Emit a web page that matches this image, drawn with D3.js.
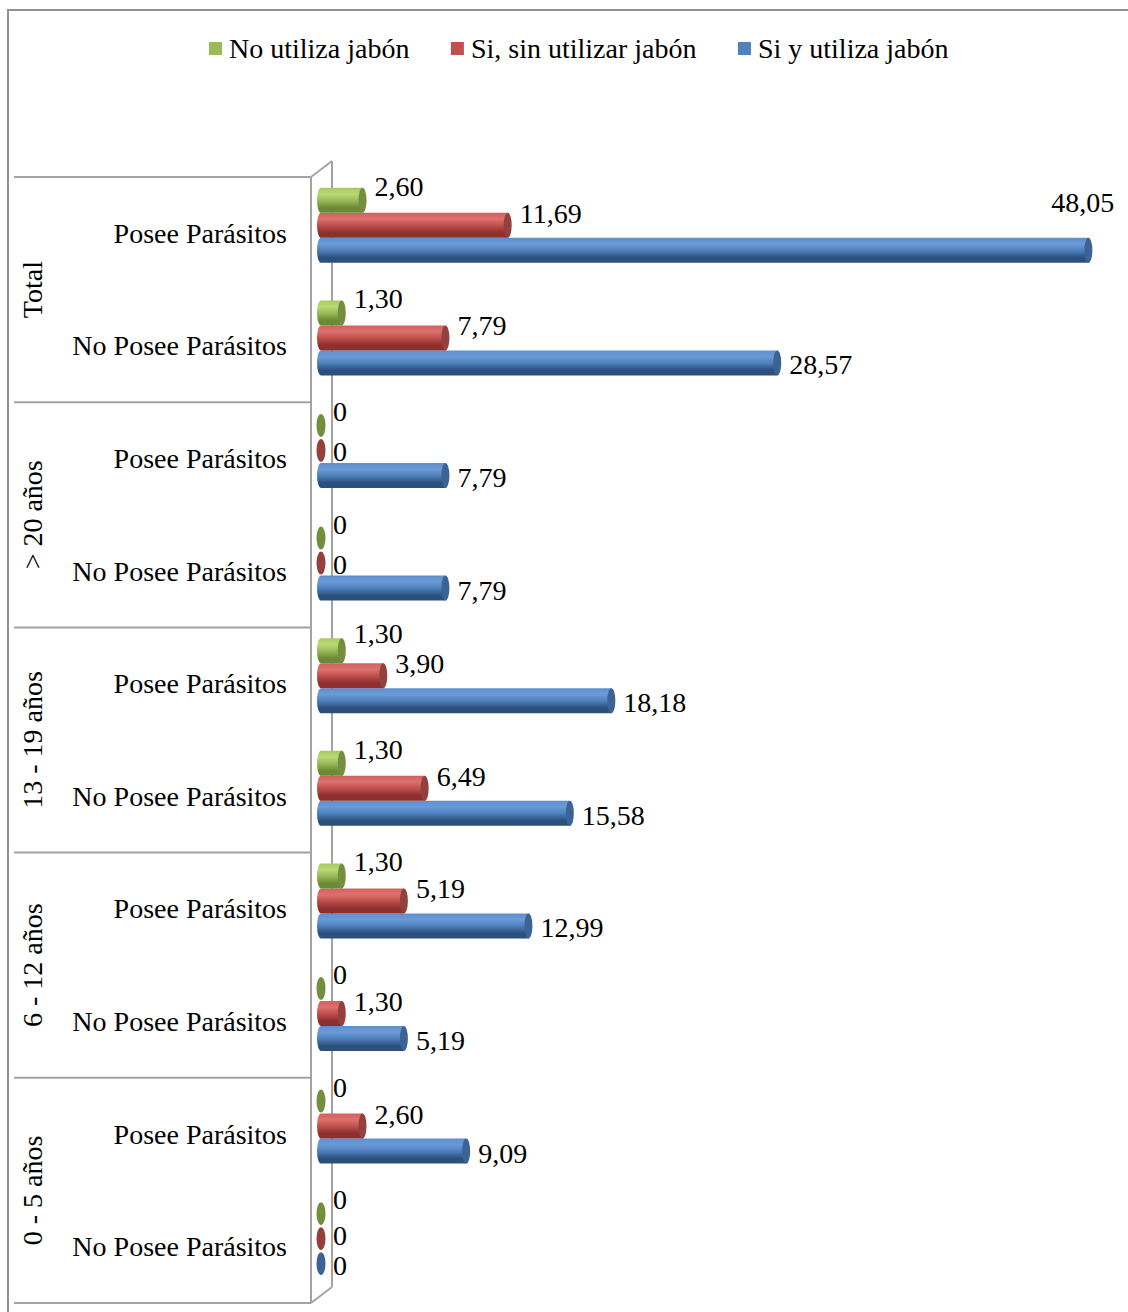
<!DOCTYPE html>
<html>
<head>
<meta charset="utf-8">
<script src="https://cdn.jsdelivr.net/npm/d3@7"></script>
<style>
  html, body { margin: 0; padding: 0; background: #fff; }
  svg { display: block; }
  text { font-family: "Liberation Serif", "Times New Roman", serif; fill: #000; }
</style>
</head>
<body>
<script>
// Grouped categories (outer group, inner row) and the three soap-use series
const groups = ["Total", "> 20 años", "13 - 19 años", "6 - 12 años", "0 - 5 años"];
const rows = ["Posee Parásitos", "No Posee Parásitos"];
const seriesNames = ["No utiliza jabón", "Si, sin utilizar jabón", "Si y utiliza jabón"];

// Percent values, one entry per row (group × Posee / No Posee), top to bottom
const noUtilizaJabon = [2.60, 1.30, 0, 0, 1.30, 1.30, 1.30, 0, 0, 0];
const siSinJabon = [11.69, 7.79, 0, 0, 3.90, 6.49, 5.19, 1.30, 2.60, 0];
const siConJabon = [48.05, 28.57, 7.79, 7.79, 18.18, 15.58, 12.99, 5.19, 9.09, 0];

const valueDomain = [0, 50];

const W = 1128, H = 1312;
const svg = d3.select("body").append("svg").attr("width", W).attr("height", H);

const palette = {
  green: { top: "#a9c95f", light: "#b9d974", mid: "#9bbb59", dark: "#6c8a35", cap: "#728f3e" },
  red:   { top: "#d0625e", light: "#dd716d", mid: "#c0504d", dark: "#8c2f2d", cap: "#94403e" },
  blue:  { top: "#5f8fcc", light: "#6a9ad8", mid: "#4f81bd", dark: "#2c4f7c", cap: "#3b6396" }
};
const seriesColors = [palette.green, palette.red, palette.blue];
const seriesData = [noUtilizaJabon, siSinJabon, siConJabon];

// Cylinder shading gradients
const defs = svg.append("defs");
seriesColors.forEach((c, i) => {
  const g = defs.append("linearGradient").attr("id", "cyl" + i)
    .attr("x1", 0).attr("y1", 0).attr("x2", 0).attr("y2", 1);
  [[0, c.top], [0.25, c.light], [0.5, c.mid], [0.8, c.dark], [1, c.dark]].forEach(([o, col]) => {
    g.append("stop").attr("offset", o).attr("stop-color", col);
  });
});

// Chart frame (right and bottom edges run past the page)
svg.append("rect").attr("x", 8).attr("y", 10).attr("width", W + 20).attr("height", H + 20)
  .attr("fill", "none").attr("stroke", "#919191").attr("stroke-width", 2);

// Scales
const plotTop = 177, plotBottom = 1303;
const front = 311, back = 332, depthY = 16;
const x = d3.scaleLinear().domain(valueDomain).range([321, 1119.5]);
const rowKeys = d3.range(groups.length * rows.length);
const y = d3.scaleBand().domain(rowKeys).range([plotTop, plotBottom]).padding(0);
const blockH = 75, lift = 8;
const ySeries = d3.scaleBand().domain(d3.range(seriesNames.length)).range([0, blockH]);

// Category axis lines and 3D wall
const axisG = svg.append("g").attr("stroke", "#a3a3a3").attr("stroke-width", 2).attr("fill", "none");
d3.range(groups.length + 1).forEach(g => {
  const yy = plotTop + g * (plotBottom - plotTop) / groups.length;
  axisG.append("line").attr("x1", 14).attr("x2", front).attr("y1", yy).attr("y2", yy);
});
axisG.append("line").attr("x1", front).attr("x2", front).attr("y1", plotTop).attr("y2", plotBottom);
axisG.append("line").attr("x1", back).attr("x2", back).attr("y1", plotTop - depthY).attr("y2", plotBottom - depthY);
axisG.append("line").attr("x1", front).attr("y1", plotTop).attr("x2", back).attr("y2", plotTop - depthY);
axisG.append("line").attr("x1", front).attr("y1", plotBottom).attr("x2", back).attr("y2", plotBottom - depthY);

// Row labels
const fs = 28;
rowKeys.forEach(k => {
  svg.append("text")
    .attr("x", 287).attr("y", y(k) + y.bandwidth() / 2 + 9.5)
    .attr("text-anchor", "end").attr("font-size", fs)
    .text(rows[k % rows.length]);
});

// Group labels, rotated
groups.forEach((g, i) => {
  const cy = plotTop + (i + 0.5) * (plotBottom - plotTop) / groups.length;
  svg.append("text")
    .attr("transform", `translate(42,${cy}) rotate(-90)`)
    .attr("text-anchor", "middle").attr("font-size", fs)
    .text(g);
});

// Bars drawn as horizontal cylinders
const rx = 4;
const fmt = v => v === 0 ? "0" : v.toFixed(2).replace(".", ",");
const labelDy = [-14, -12, 2];
const zeroLabelDy = [-14, 1, 2];
const minGap = 30;
const barsG = svg.append("g");
const labelsG = svg.append("g");

rowKeys.forEach(k => {
  const blockTop = y(k) + y.bandwidth() / 2 - lift - blockH / 2;
  const placed = [];
  // bottom series first so labels above can step clear of those below
  [2, 1, 0].forEach(s => {
    const v = seriesData[s][k];
    const top = blockTop + ySeries(s);
    const h = ySeries.bandwidth();
    const bottom = top + h;
    const cy = top + h / 2;
    const x0 = x(0), x1 = x(v);
    const c = seriesColors[s];
    if (v > 0) {
      barsG.append("path")
        .attr("d", `M${x0},${top} H${x1} V${bottom} H${x0} A${rx},${h / 2} 0 0 1 ${x0},${top} Z`)
        .attr("fill", `url(#cyl${s})`);
      barsG.append("ellipse")
        .attr("cx", x1).attr("cy", cy).attr("rx", rx).attr("ry", h / 2)
        .attr("fill", c.cap);
    } else {
      barsG.append("ellipse")
        .attr("cx", x0).attr("cy", cy).attr("rx", rx + 0.5).attr("ry", h / 2 - 1)
        .attr("fill", c.cap);
    }

    const lbl = labelsG.append("text")
      .attr("font-size", fs)
      .text(fmt(v));
    const tw = lbl.node().getComputedTextLength();
    let lx = x1 + rx + 8;
    let lc = cy + (v === 0 ? zeroLabelDy[s] : labelDy[s]);
    if (lx + tw > W - 6) {
      // keep labels that would run off the edge inside, above the bar
      lx = x1 + 26 - tw;
      lc = top - 35;
    }
    placed.forEach(p => {
      const overlapX = lx < p.x + p.w && p.x < lx + tw;
      if (overlapX && lc > p.c - minGap) lc = p.c - minGap;
    });
    placed.push({ x: lx, w: tw, c: lc });
    lbl.attr("x", lx).attr("y", lc + 9.5);
  });
});

// Legend
const legend = svg.append("g");
let lx = 209;
seriesNames.forEach((name, i) => {
  legend.append("rect").attr("x", lx).attr("y", 42).attr("width", 13).attr("height", 13)
    .attr("fill", seriesColors[i].mid);
  const t = legend.append("text").attr("x", lx + 20).attr("y", 57.5).attr("font-size", fs).text(name);
  lx += 20 + t.node().getComputedTextLength() + 41.5;
});
</script>
</body>
</html>
